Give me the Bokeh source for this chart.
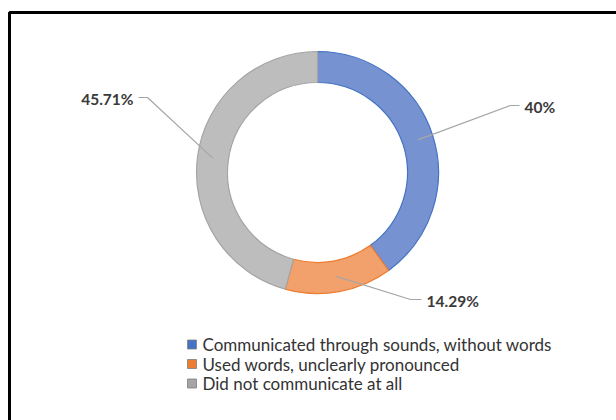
import numpy as np
from bokeh.plotting import figure
from bokeh.models import Range1d
from bokeh.core.properties import value
from bokeh.embed import file_html
from bokeh.resources import INLINE

categories = ["Communicated through sounds, without words",
              "Used words, unclearly pronounced",
              "Did not communicate at all"]
shares = [40.0, 14.29, 45.71]
labels = ["40%", "14.29%", "45.71%"]

fills = ["#7792d0", "#f2a06c", "#bdbdbd"]
edges = ["#4472c4", "#ed7d31", "#a5a5a5"]
legend_fills = ["#4472c4", "#ed7d31", "#a5a5a5"]

W, H = 616, 420
p = figure(width=W, height=H, output_backend="svg", toolbar_location=None,
           x_range=Range1d(0, W), y_range=Range1d(0, H), min_border=0)
p.axis.visible = False
p.grid.visible = False
p.outline_line_color = None
p.background_fill_color = "white"

def Y(py):
    return H - py

# frame
p.line([9, 9, 640], [Y(440), Y(12), Y(12)], line_color="black", line_width=3)

cx, cy = 317, Y(172)
r_in, r_out = 90, 121
frac = np.array(shares) / np.sum(shares)
ends = np.pi / 2 - 2 * np.pi * np.cumsum(frac)
starts = np.concatenate([[np.pi / 2], ends[:-1]])
mids = (starts + ends) / 2

p.annular_wedge(x=[cx] * 3, y=[cy] * 3, inner_radius=r_in, outer_radius=r_out,
                start_angle=list(starts), end_angle=list(ends), direction="clock",
                fill_color=fills, line_color=edges, line_width=1.2)

# leader lines and labels
rm = (r_in + r_out) / 2
lab_pos = [(524, Y(106), "left", 510, 519), (426, Y(300), "left", 410, 421), (133, Y(98), "right", 147, 138)]
for i, (tx, ty, align, kx, hx) in enumerate(lab_pos):
    px0 = cx + rm * np.cos(mids[i])
    py0 = cy + rm * np.sin(mids[i])
    p.line([px0, kx, hx], [py0, ty + 1, ty + 1], line_color="#a6a6a6", line_width=1.2)
    p.text(x=[tx], y=[ty], text=[labels[i]], text_align=align, text_baseline="middle",
           text_font=value("Lato"), text_font_size="15.5px", text_font_style="bold",
           text_color="#3a3a3a")

# legend
lx, ly0, dy = 191.5, Y(344), 19.5
for i, c in enumerate(categories):
    yy = ly0 - i * dy
    p.rect(x=[lx], y=[yy], width=9, height=9, fill_color=legend_fills[i],
           line_color="#7f7f7f", line_width=0.8)
    p.text(x=[202], y=[yy], text=[c], text_align="left", text_baseline="middle",
           text_font=value("Lato"), text_font_size="17px", text_color="#333333")

open("out.html", "w").write(file_html(p, INLINE))
